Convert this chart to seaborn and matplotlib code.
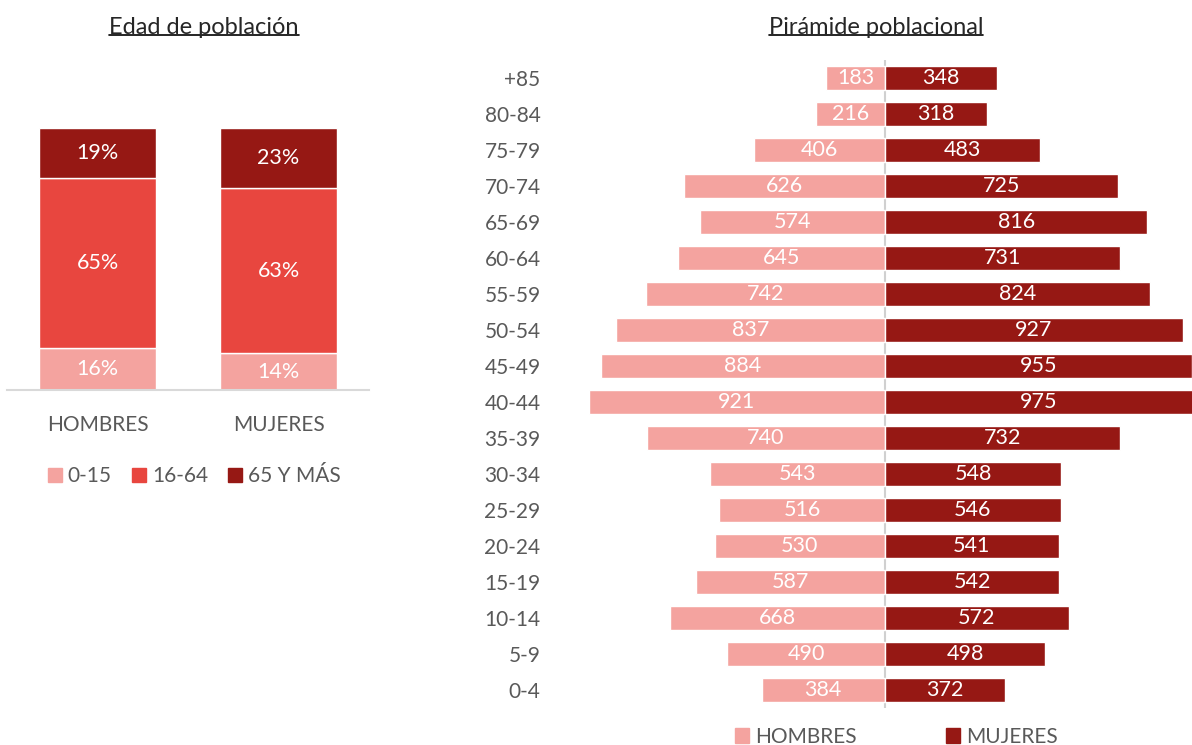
import matplotlib
matplotlib.use('Agg')
import matplotlib.pyplot as plt
from matplotlib.patches import Patch
from matplotlib.lines import Line2D
import numpy as np
import pandas as pd
import seaborn as sns

# datos
sexos = ['HOMBRES', 'MUJERES']
grupos = ['0-15', '16-64', '65 Y MÁS']
pct_0_15 = [16, 14]
pct_16_64 = [65, 63]
pct_65 = [19, 23]

edades = ['+85', '80-84', '75-79', '70-74', '65-69', '60-64', '55-59', '50-54', '45-49',
          '40-44', '35-39', '30-34', '25-29', '20-24', '15-19', '10-14', '5-9', '0-4']
hombres = [183, 216, 406, 626, 574, 645, 742, 837, 884, 921, 740, 543, 516, 530, 587, 668, 490, 384]
mujeres = [348, 318, 483, 725, 816, 731, 824, 927, 955, 975, 732, 548, 546, 541, 542, 572, 498, 372]

c_claro = '#F4A39F'
c_medio = '#E8463F'
c_oscuro = '#961814'
gris = '#595959'

sns.set_style('white')
plt.rcParams['font.family'] = ['Lato', 'DejaVu Sans']

fig = plt.figure(figsize=(11.92, 7.45), dpi=100)

# ---- izquierda: barras apiladas
ax1 = fig.add_axes([0.0059, 0.4765, 0.3037, 0.3517])
df1 = pd.DataFrame({'sexo': sexos, 'a': pct_0_15, 'b': pct_16_64, 'c': pct_65})
base = np.zeros(len(sexos))
for col, color in zip(['a', 'b', 'c'], [c_claro, c_medio, c_oscuro]):
    sns.barplot(data=df1, x='sexo', y=col, color=color, width=0.646, bottom=base,
                errorbar=None, saturation=1, ax=ax1)
    base = base + df1[col].values
for cont in ax1.containers:
    ax1.bar_label(cont, labels=[f'{v:.0f}%' for v in cont.datavalues],
                  label_type='center', color='white', fontsize=15.5)
ax1.set_xlim(-0.5, 1.5)
ax1.set_ylim(0, 100)
ax1.set_xlabel('')
ax1.set_ylabel('')
ax1.set_yticks([])
sns.despine(ax=ax1, left=True)
ax1.spines['bottom'].set_color('#D9D9D9')
ax1.spines['bottom'].set_linewidth(1.5)
ax1.tick_params(axis='x', length=0, pad=18, labelsize=15, labelcolor=gris)
ax1.legend(handles=[Patch(color=c) for c in [c_claro, c_medio, c_oscuro]], labels=grupos,
           loc='center', bbox_to_anchor=(0.517, -0.33), ncol=3, frameon=False,
           fontsize=15, labelcolor=gris, handlelength=0.67, handleheight=0.67,
           handletextpad=0.3, columnspacing=0.95)

# ---- derecha: pirámide
ax2 = fig.add_axes([0.4698, 0.0497, 0.5302, 0.8698])
df2 = pd.DataFrame({'edad': edades, 'h': [-v for v in hombres], 'm': mujeres})
sns.barplot(data=df2, x='h', y='edad', order=edades, color=c_claro, width=0.67,
            errorbar=None, saturation=1, ax=ax2)
sns.barplot(data=df2, x='m', y='edad', order=edades, color=c_oscuro, width=0.67,
            errorbar=None, saturation=1, ax=ax2)
ax2.bar_label(ax2.containers[0], labels=[str(v) for v in hombres], label_type='center',
              color='white', fontsize=15.5)
ax2.bar_label(ax2.containers[1], labels=[str(v) for v in mujeres], label_type='center',
              color='white', fontsize=15.5)
ax2.axvline(0, color='#D0D0D0', lw=1.5, zorder=0.5)
ax2.set_xlim(-1011, 955)
ax2.set_ylim(17.5, -0.5)
ax2.set_xlabel('')
ax2.set_ylabel('')
ax2.set_xticks([])
sns.despine(ax=ax2, left=True, bottom=True)
ax2.tick_params(axis='y', length=0, pad=14, labelsize=15, labelcolor=gris)
fig.legend(handles=[Patch(color=c_claro), Patch(color=c_oscuro)], labels=['HOMBRES', 'MUJERES'],
           loc='center', bbox_to_anchor=(0.752, 0.011), ncol=2, frameon=False,
           fontsize=15, labelcolor=gris, handlelength=0.67, handleheight=0.67,
           handletextpad=0.3, columnspacing=4.3)

# ---- títulos subrayados
titulos = [fig.text(0.171, 0.963, 'Edad de población', ha='center', va='center', fontsize=17),
           fig.text(0.735, 0.963, 'Pirámide poblacional', ha='center', va='center', fontsize=17)]
fig.canvas.draw()
r = fig.canvas.get_renderer()
for t in titulos:
    bb = t.get_window_extent(r)
    y = (bb.y0 + 3) / fig.bbox.height
    fig.add_artist(Line2D([bb.x0 / fig.bbox.width, bb.x1 / fig.bbox.width], [y, y],
                          color='black', lw=1.2, transform=fig.transFigure))

fig.savefig('out.png', dpi=100)
